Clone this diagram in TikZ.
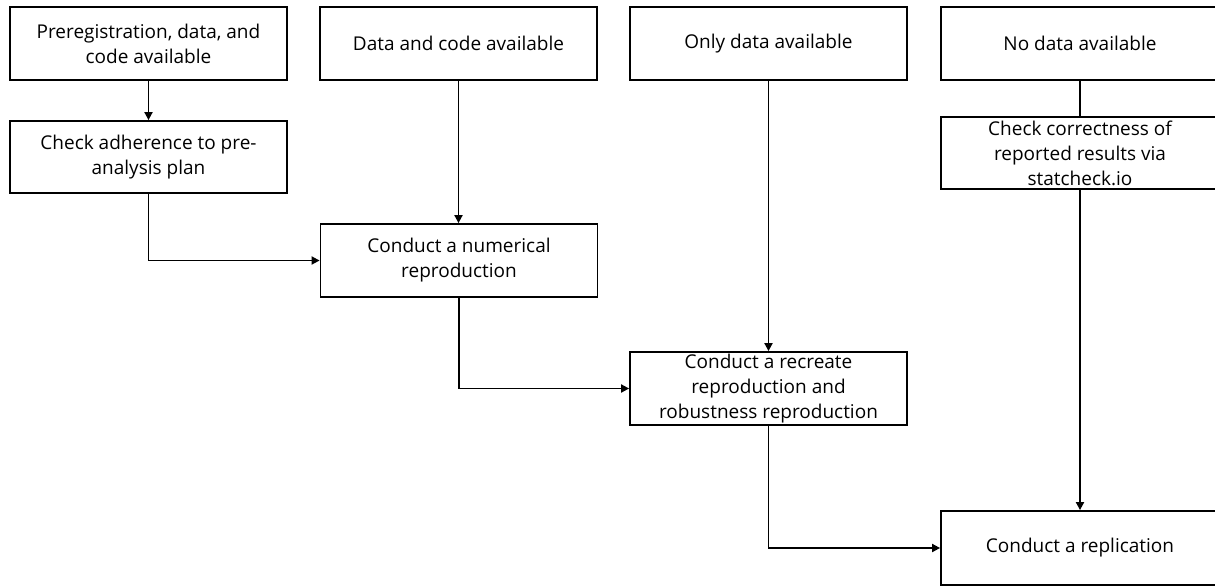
\documentclass[tikz,border=0pt]{standalone}
\usepackage{fontspec}
\setmainfont{Open Sans}
\usetikzlibrary{arrows.meta}
\tikzset{
  box/.style={draw, line width=1.8pt, minimum width=277pt, inner sep=0pt, align=center,
    font=\fontsize{19}{25}\selectfont},
  conn/.style={line width=1.8pt},
  arr/.style={conn, -{Triangle[length=8pt,width=8pt]}}
}
\begin{document}
\begin{tikzpicture}[x=1pt,y=-1pt]
\useasboundingbox (0,0) rectangle (1215,586);
\node[box, minimum height=73pt] (b1) at (148.5,43.5) {Preregistration, data, and\\code available};
\node[box, minimum height=72pt] (b2) at (148.5,157) {Check adherence to pre-\\analysis plan};
\node[box, minimum height=73pt] (b3) at (458.5,43.5) {Data and code available};
\node[box, minimum height=73pt] (b4) at (459,260.5) {Conduct a numerical\\reproduction};
\node[box, minimum height=73pt] (b5) at (768.5,43.5) {Only data available};
\node[box, minimum height=73pt] (b6) at (768.5,388.5) {Conduct a recreate\\reproduction and\\robustness reproduction};
\node[box, minimum height=73pt, minimum width=278pt] (b7) at (1080,43.5) {No data available};
\node[box, minimum height=72pt, minimum width=278pt] (b8) at (1080,153) {Check correctness of\\reported results via\\statcheck.io};
\node[box, minimum height=74pt, minimum width=278pt] (b9) at (1080,548) {Conduct a replication};
\draw[arr] (b1.south) -- (b2.north);
\draw[arr] (b2.south) |- (b4.west);
\draw[arr] (b3.south) -- (b3.south |- b4.north);
\draw[arr] (b4.south) |- (b6.west);
\draw[arr] (b5.south) -- (b6.north);
\draw[arr] (b6.south) |- (b9.west);
\draw[conn] (b7.south) -- (b8.north);
\draw[arr] (b8.south) -- (b9.north);
\end{tikzpicture}
\end{document}
